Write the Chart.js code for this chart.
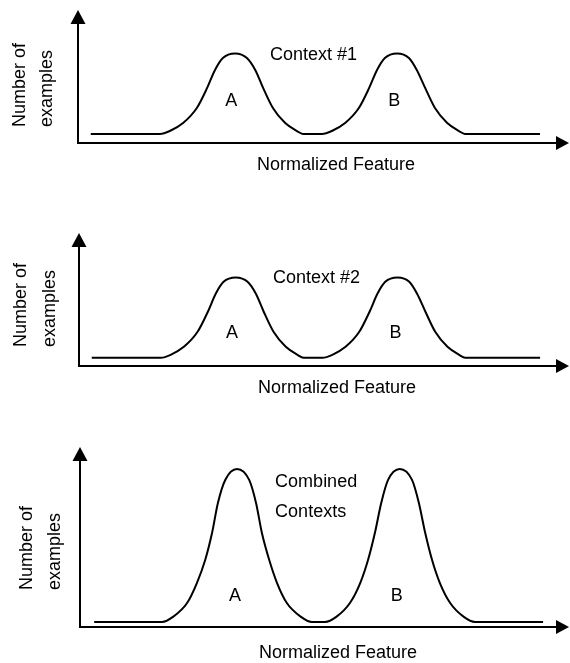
<!DOCTYPE html>
<html>
<head>
<meta charset="utf-8">
<script src="https://cdn.jsdelivr.net/npm/chart.js@4/dist/chart.umd.min.js"></script>
<style>
  html, body { margin: 0; padding: 0; background: #fff; }
  #wrap { position: relative; width: 570px; height: 663px; }
  canvas { position: absolute; left: 0; }
</style>
</head>
<body>
<div id="wrap">
  <canvas id="ctx1" width="570" height="210" style="top:0px"></canvas>
  <canvas id="ctx2" width="570" height="210" style="top:215px"></canvas>
  <canvas id="ctx3" width="570" height="233" style="top:430px"></canvas>
</div>
<script>
// normalized feature (0-100) and number of examples (0-100 = top of axis)
const featureSingle = [2.6, 16.7, 18.7, 21.4, 24.2, 26.3, 27.9, 29.5, 32.0, 34.4, 36.1, 37.7, 39.7, 42.2, 44.6, 45.8,
  49.7, 51.7, 54.4, 57.2, 59.3, 60.9, 62.5, 65.0, 67.4, 69.0, 70.7, 72.7, 75.2, 77.6, 78.8, 94.1];
const countsContext1 = [6.8, 6.8, 9.0, 15.0, 26.3, 41.4, 54.9, 63.9, 67.3, 63.9, 54.9, 41.4, 26.3, 15.0, 9.0, 6.8,
  6.8, 9.0, 15.0, 26.3, 41.4, 54.9, 63.9, 67.3, 63.9, 54.9, 41.4, 26.3, 15.0, 9.0, 6.8, 6.8];
const countsContext2 = [6.2, 6.2, 8.4, 14.4, 25.7, 40.8, 54.3, 63.3, 66.6, 63.3, 54.3, 40.8, 25.7, 14.4, 8.4, 6.2,
  6.2, 8.4, 14.4, 25.7, 40.8, 54.3, 63.3, 66.6, 63.3, 54.3, 40.8, 25.7, 14.4, 8.4, 6.2, 6.2];
const featureCombined = [2.9, 16.8, 19.0, 21.9, 23.9, 25.6, 27.0, 28.2, 29.7, 32.1, 34.6, 36.0, 37.2, 38.7, 40.3, 42.3, 45.2, 47.4,
  50.1, 52.4, 55.2, 57.3, 58.9, 60.3, 61.6, 63.0, 65.4, 67.9, 69.3, 70.6, 72.0, 73.6, 75.7, 78.5, 80.8, 94.7];
const countsCombined = [2.8, 2.8, 5.6, 13.3, 24.4, 37.2, 52.2, 68.9, 81.7, 87.8, 81.7, 68.9, 52.2, 37.2, 24.4, 13.3, 5.6, 2.8,
  2.8, 5.6, 13.3, 24.4, 37.2, 52.2, 68.9, 81.7, 87.8, 81.7, 68.9, 52.2, 37.2, 24.4, 13.3, 5.6, 2.8, 2.8];

const yTitle = ['Number of', 'examples'];
const xTitle = 'Normalized Feature';
const notes1 = [{ text: 'A', x: 31.2, y: 31.6 }, { text: 'B', x: 64.4, y: 31.6 }, { text: 'Context #1', x: 39.1, y: 66.2, align: 'left' }];
const notes2 = [{ text: 'A', x: 31.2, y: 25.0 }, { text: 'B', x: 64.6, y: 25.0 }, { text: 'Context #2', x: 39.6, y: 66.2, align: 'left' }];
const notes3 = [{ text: 'A', x: 31.7, y: 17.2 }, { text: 'B', x: 64.8, y: 17.2 },
  { text: 'Combined', x: 39.9, y: 80.6, align: 'left' }, { text: 'Contexts', x: 39.9, y: 63.9, align: 'left' }];

const FONT = '18px "Liberation Sans", Arial, sans-serif';

const sketchAxes = {
  id: 'sketchAxes',
  afterDraw(chart, args, opts) {
    const { ctx, chartArea: a, scales } = chart;
    ctx.save();
    ctx.strokeStyle = '#000';
    ctx.fillStyle = '#000';
    ctx.lineWidth = 2;

    // axes
    ctx.beginPath();
    ctx.moveTo(a.left, a.top + 12);
    ctx.lineTo(a.left, a.bottom);
    ctx.lineTo(a.right - 10, a.bottom);
    ctx.stroke();

    // arrow heads
    ctx.beginPath();
    ctx.moveTo(a.left, a.top);
    ctx.lineTo(a.left - 7.5, a.top + 14);
    ctx.lineTo(a.left + 7.5, a.top + 14);
    ctx.closePath();
    ctx.fill();
    ctx.beginPath();
    ctx.moveTo(a.right, a.bottom);
    ctx.lineTo(a.right - 13, a.bottom - 7);
    ctx.lineTo(a.right - 13, a.bottom + 7);
    ctx.closePath();
    ctx.fill();

    ctx.font = FONT;

    // x title
    ctx.textAlign = 'center';
    ctx.textBaseline = 'middle';
    ctx.fillText(xTitle, a.left + 258, a.bottom + opts.xTitleGap);

    // y title, two lines rotated
    ctx.textAlign = 'left';
    ctx.textBaseline = 'alphabetic';
    opts.yTitleX.forEach((dx, i) => {
      ctx.save();
      ctx.translate(a.left - dx, a.bottom - opts.yTitleStart);
      ctx.rotate(-Math.PI / 2);
      ctx.fillText(yTitle[i], 0, 0);
      ctx.restore();
    });

    // notes
    ctx.textBaseline = 'middle';
    opts.notes.forEach((n) => {
      ctx.textAlign = n.align || 'center';
      ctx.fillText(n.text, scales.x.getPixelForValue(n.x), scales.y.getPixelForValue(n.y));
    });
    ctx.restore();
  },
};

function makeChart(id, xs, ys, pad, plug) {
  return new Chart(document.getElementById(id), {
    type: 'line',
    data: {
      datasets: [{
        data: xs.map((x, i) => ({ x, y: ys[i] })),
        borderColor: '#000',
        borderWidth: 2,
        pointRadius: 0,
        fill: false,
        cubicInterpolationMode: 'monotone',
      }],
    },
    options: {
      responsive: false,
      animation: false,
      devicePixelRatio: 1,
      layout: { padding: pad },
      scales: {
        x: { type: 'linear', min: 0, max: 100, display: false },
        y: { min: 0, max: 100, display: false },
      },
      plugins: {
        legend: { display: false },
        tooltip: { enabled: false },
        sketchAxes: plug,
      },
    },
    plugins: [sketchAxes],
  });
}

makeChart('ctx1', featureSingle, countsContext1, { left: 78, right: 1, top: 10, bottom: 67 },
  { notes: notes1, xTitleGap: 22, yTitleX: [53, 26], yTitleStart: 16 });
makeChart('ctx2', featureSingle, countsContext2, { left: 79, right: 1, top: 18, bottom: 59 },
  { notes: notes2, xTitleGap: 22, yTitleX: [53, 24], yTitleStart: 19 });
makeChart('ctx3', featureCombined, countsCombined, { left: 80, right: 1, top: 17, bottom: 36 },
  { notes: notes3, xTitleGap: 26, yTitleX: [48, 20], yTitleStart: 37 });
</script>
</body>
</html>
